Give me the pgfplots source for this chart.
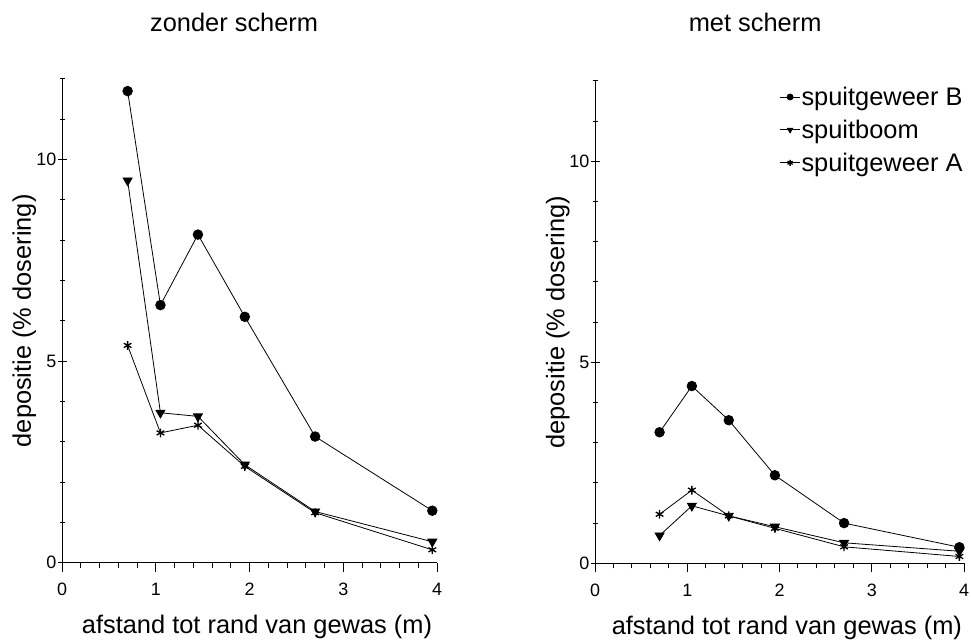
\documentclass[border=0pt]{standalone}
\usepackage{fontspec}
\setmainfont{Liberation Sans}
\usepackage{pgfplots}
\pgfplotsset{compat=1.18}

\newcommand{\lab}{\fontsize{25.5}{30}\selectfont}
\newcommand{\tik}{\fontsize{18}{21}\selectfont}

\pgfplotsset{
  depo/.style={
    scale only axis,
    axis lines=left,
    axis line style={-, line width=1bp},
    xmin=0, xmax=4, ymin=0, ymax=12,
    xtick={0,1,2,3,4}, ytick={0,5,10},
    minor xtick={0.2,0.4,0.6,0.8,1.2,1.4,1.6,1.8,2.2,2.4,2.6,2.8,3.2,3.4,3.6,3.8},
    minor ytick={1,2,3,4,6,7,8,9,11,12},
    xtick align=outside, ytick align=center,
    major tick length=9bp, minor tick length=5bp,
    every tick/.style={black, line width=1bp},
    /pgf/number format/assume math mode=true,
    tick label style={font=\tik},
    xticklabel style={yshift=-8bp},
    yticklabel style={inner sep=1bp},
    label style={font=\lab},
    xlabel={afstand tot rand van gewas (m)},
    xlabel style={at={(axis description cs:0.52,0)}, anchor=base, yshift=-71bp, inner sep=0pt},
    ylabel={depositie (\% dosering)},
    ylabel style={at={(axis description cs:-0.083,0.5)}, anchor=base, inner sep=0pt},
    title style={font=\lab, anchor=base, inner sep=0pt},
    clip=false,
    every axis plot/.append style={black, line width=0.8bp},
  },
  mB/.style={mark=*, mark size=4.8bp, mark options={solid, fill=black}},
  mT/.style={mark=triangle*, mark size=5.2bp, mark options={solid, fill=black, rotate=180}},
  mA/.style={mark=asterisk, mark size=4.4bp, mark options={solid, line width=1.3bp}},
}

\begin{document}
\begin{tikzpicture}
\useasboundingbox (0,0) rectangle (971bp,640bp);

\begin{axis}[depo,
  at={(62bp,77.3bp)}, anchor=south west,
  width=375bp, height=483.7bp,
  title={zonder scherm},
  title style={at={(axis description cs:0.459,1)}, yshift=42bp},
]
\addplot[mB] coordinates {(0.70,11.70)(1.05,6.39)(1.45,8.14)(1.95,6.10)(2.70,3.13)(3.95,1.29)};
\addplot[mT] coordinates {(0.70,9.48)(1.05,3.72)(1.45,3.63)(1.95,2.43)(2.70,1.27)(3.95,0.52)};
\addplot[mA] coordinates {(0.70,5.39)(1.05,3.22)(1.45,3.41)(1.95,2.39)(2.70,1.24)(3.95,0.32)};
\end{axis}

\begin{axis}[depo,
  at={(595bp,76.7bp)}, anchor=south west,
  width=369bp, height=482.3bp,
  title={met scherm},
  title style={at={(axis description cs:0.434,1)}, yshift=44bp},
  legend style={draw=none, fill=none, at={(axis description cs:0.5,0.99)}, anchor=north west,
    font=\lab, inner sep=0pt, row sep=11bp, nodes={inner sep=1bp},
    /tikz/every even column/.append style={column sep=6bp}},
  legend cell align=left,
  legend image code/.code={\draw[mark size=3bp, mark repeat=2, mark phase=2] plot coordinates {(0bp,0bp)(10bp,0bp)(20bp,0bp)};},
]
\addplot[mB] coordinates {(0.70,3.26)(1.05,4.41)(1.45,3.56)(1.95,2.19)(2.70,1.00)(3.95,0.40)};
\addplot[mT] coordinates {(0.70,0.69)(1.05,1.43)(1.45,1.18)(1.95,0.91)(2.70,0.51)(3.95,0.30)};
\addplot[mA] coordinates {(0.70,1.22)(1.05,1.82)(1.45,1.18)(1.95,0.87)(2.70,0.41)(3.95,0.17)};
\legend{spuitgeweer B, spuitboom, spuitgeweer A}
\end{axis}
\end{tikzpicture}
\end{document}
